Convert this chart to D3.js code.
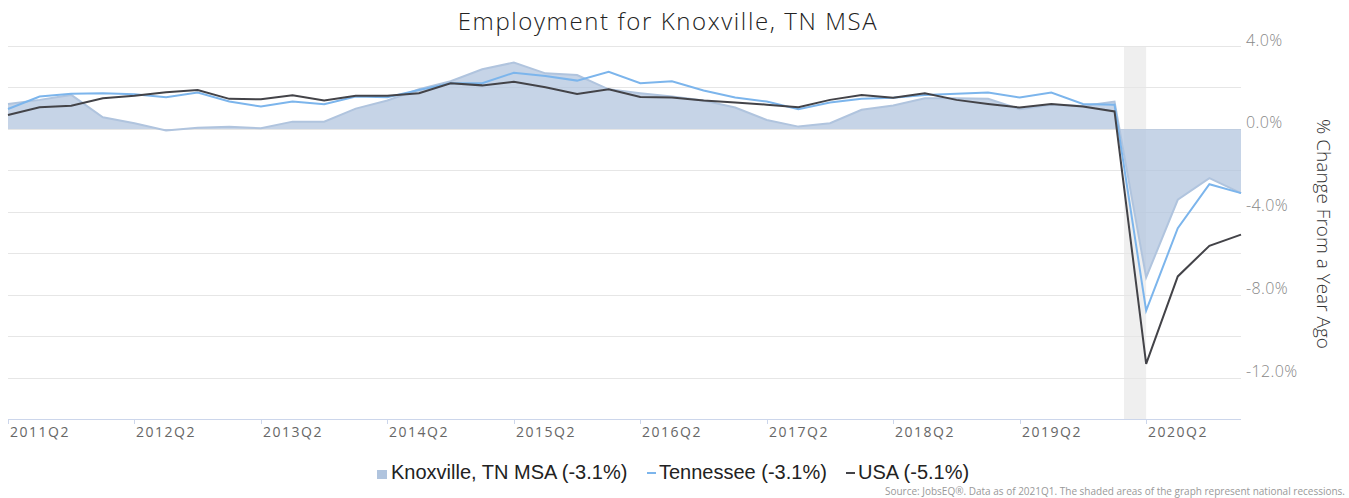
<!DOCTYPE html>
<html>
<head>
<meta charset="utf-8">
<script src="https://cdn.jsdelivr.net/npm/d3@7"></script>
<style>
  body { margin: 0; background: #fff; }
  svg { display: block; }
</style>
</head>
<body>
<svg id="chart" width="1349" height="498"></svg>
<script>
// quarters shown on the x axis (2011Q2 .. 2021Q1)
const quarters = [
  "2011Q2","2011Q3","2011Q4","2012Q1","2012Q2","2012Q3","2012Q4","2013Q1",
  "2013Q2","2013Q3","2013Q4","2014Q1","2014Q2","2014Q3","2014Q4","2015Q1",
  "2015Q2","2015Q3","2015Q4","2016Q1","2016Q2","2016Q3","2016Q4","2017Q1",
  "2017Q2","2017Q3","2017Q4","2018Q1","2018Q2","2018Q3","2018Q4","2019Q1",
  "2019Q2","2019Q3","2019Q4","2020Q1","2020Q2","2020Q3","2020Q4","2021Q1"
];

// % change from a year ago
const knoxville = [1.2, 1.4, 1.64, 0.56, 0.27, -0.08, 0.06, 0.1, 0.03, 0.35, 0.35, 0.98, 1.37, 1.91, 2.3, 2.88,
  3.2, 2.68, 2.6, 1.91, 1.72, 1.56, 1.37, 1.03, 0.43, 0.11, 0.27, 0.92, 1.13, 1.48, 1.48, 1.45,
  0.95, 1.16, 1.11, 1.32, -7.17, -3.42, -2.38, -3.1];
const tennessee = [0.96, 1.56, 1.7, 1.72, 1.67, 1.53, 1.75, 1.32, 1.08, 1.32, 1.19, 1.56, 1.53, 1.88, 2.2, 2.2,
  2.71, 2.55, 2.33, 2.76, 2.2, 2.3, 1.85, 1.51, 1.32, 0.95, 1.27, 1.45, 1.5, 1.64, 1.69, 1.75,
  1.51, 1.75, 1.2, 1.16, -8.77, -4.79, -2.67, -3.1];
const usa = [0.67, 1.04, 1.12, 1.48, 1.6, 1.77, 1.88, 1.45, 1.43, 1.62, 1.37, 1.6, 1.6, 1.72, 2.2, 2.1,
  2.27, 2.01, 1.69, 1.91, 1.54, 1.51, 1.37, 1.27, 1.17, 1.04, 1.4, 1.64, 1.5, 1.72, 1.4, 1.2,
  1.03, 1.2, 1.08, 0.84, -11.34, -7.12, -5.64, -5.1];

// x ticks and y ticks
const xTickLabels = ["2011Q2","2012Q2","2013Q2","2014Q2","2015Q2","2016Q2","2017Q2","2018Q2","2019Q2","2020Q2"];
const yGrid = [4, 2, 0, -2, -4, -6, -8, -10, -12];
const yLabels = [4, 0, -4, -8, -12];

// recession band, in quarter index units
const recession = [35.3, 36];

const svg = d3.select('#chart');
const plotLeft = 8, plotRight = 1241, plotTop = 46, plotBottom = 419;

const x = d3.scaleLinear().domain([0, quarters.length - 1]).range([plotLeft, plotRight]);
const y = d3.scaleLinear().domain([-14, 4]).range([plotBottom, plotTop]);

//title
svg.append('text')
  .attr('x', 668).attr('y', 30)
  .attr('text-anchor', 'middle')
  .style('font-family', 'Open Sans')
  .style('font-weight', 300)
  .style('font-size', '24px')
  .style('letter-spacing', '1.6px')
  .attr('fill', '#222')
  .text('Employment for Knoxville, TN MSA');

// recession shading
svg.append('rect')
  .attr('x', x(recession[0]))
  .attr('y', plotTop)
  .attr('width', x(recession[1]) - x(recession[0]))
  .attr('height', plotBottom - plotTop)
  .attr('fill', '#efefef');

// gridlines
svg.selectAll('line.grid')
  .data(yGrid)
  .enter()
  .append('line')
  .attr('class', 'grid')
  .attr('x1', plotLeft).attr('x2', plotRight)
  .attr('y1', d => Math.round(y(d)) + 0.5).attr('y2', d => Math.round(y(d)) + 0.5)
  .attr('stroke', '#e6e6e6')
  .attr('stroke-width', 1);

// right axis labels
svg.selectAll('text.ylab')
  .data(yLabels)
  .enter()
  .append('text')
  .attr('class', 'ylab')
  .attr('x', 1246)
  .attr('y', d => y(d) - 0.5)
  .style('font-family', 'Open Sans')
  .style('font-weight', 300)
  .style('font-size', '16px')
  .style('letter-spacing', '0.4px')
  .attr('fill', '#888')
  .text(d => (d < 0 ? '-' : '') + Math.abs(d).toFixed(1) + '%');

svg.append('text')
  .attr('transform', 'translate(1317,234) rotate(90)')
  .attr('text-anchor', 'middle')
  .style('font-family', 'Open Sans')
  .style('font-weight', 300)
  .style('font-size', '19px')
  .attr('fill', '#333')
  .text('% Change From a Year Ago');

// knoxville area
const area = d3.area()
  .x((d, i) => x(i))
  .y0(y(0))
  .y1(d => y(d));

svg.append('path')
  .datum(knoxville)
  .attr('d', area)
  .attr('fill', '#b0c4de')
  .attr('fill-opacity', 0.72);

const line = d3.line()
  .x((d, i) => x(i))
  .y(d => y(d));

svg.append('path')
  .datum(knoxville)
  .attr('d', line)
  .attr('fill', 'none')
  .attr('stroke', '#b0c4de')
  .attr('stroke-width', 2);

svg.append('path')
  .datum(tennessee)
  .attr('d', line)
  .attr('fill', 'none')
  .attr('stroke', '#7cb5ec')
  .attr('stroke-width', 2);

svg.append('path')
  .datum(usa)
  .attr('d', line)
  .attr('fill', 'none')
  .attr('stroke', '#434348')
  .attr('stroke-width', 2);

// x axis
svg.append('line')
  .attr('x1', plotLeft).attr('x2', plotRight)
  .attr('y1', plotBottom + 0.5).attr('y2', plotBottom + 0.5)
  .attr('stroke', '#ccd6eb');

const xTicks = svg.selectAll('g.xtick')
  .data(xTickLabels)
  .enter()
  .append('g')
  .attr('class', 'xtick')
  .attr('transform', d => `translate(${Math.round(x(quarters.indexOf(d)))},${plotBottom})`);

xTicks.append('line')
  .attr('x1', 0.5).attr('x2', 0.5)
  .attr('y1', 0).attr('y2', 5)
  .attr('stroke', '#ccd6eb');

xTicks.append('text')
  .attr('x', 2).attr('y', 18)
  .style('font-family', 'Open Sans')
  .style('font-size', '14px')
  .style('letter-spacing', '1.5px')
  .attr('fill', '#666')
  .text(d => d);

// legend
const legendItems = [
  {name: 'Knoxville, TN MSA', last: knoxville[knoxville.length - 1], color: '#b0c4de', type: 'area'},
  {name: 'Tennessee', last: tennessee[tennessee.length - 1], color: '#7cb5ec', type: 'line'},
  {name: 'USA', last: usa[usa.length - 1], color: '#434348', type: 'line'}
];
const legendX = [377, 647, 846];

const lg = svg.selectAll('g.legend')
  .data(legendItems)
  .enter()
  .append('g')
  .attr('class', 'legend')
  .attr('transform', (d, i) => `translate(${legendX[i]},479)`);

lg.filter(d => d.type === 'area').append('rect')
  .attr('x', 0).attr('y', -9).attr('width', 10).attr('height', 9)
  .attr('fill', d => d.color);

lg.filter(d => d.type === 'line').append('line')
  .attr('x1', 0).attr('x2', 9)
  .attr('y1', -6).attr('y2', -6)
  .attr('stroke', d => d.color)
  .attr('stroke-width', 2);

lg.append('text')
  .attr('x', (d) => d.type === 'area' ? 14 : 12)
  .attr('y', 0)
  .style('font-family', 'Liberation Sans, Arial, sans-serif')
  .style('font-size', '20px')
  .attr('fill', '#222')
  .text(d => `${d.name} (${d.last.toFixed(1)}%)`);

// source note
svg.append('text')
  .attr('x', 1345).attr('y', 495)
  .attr('text-anchor', 'end')
  .style('font-family', 'Open Sans')
  .style('font-size', '10px')
  .attr('fill', '#999')
  .text('Source: JobsEQ®. Data as of 2021Q1. The shaded areas of the graph represent national recessions.');
</script>
</body>
</html>
